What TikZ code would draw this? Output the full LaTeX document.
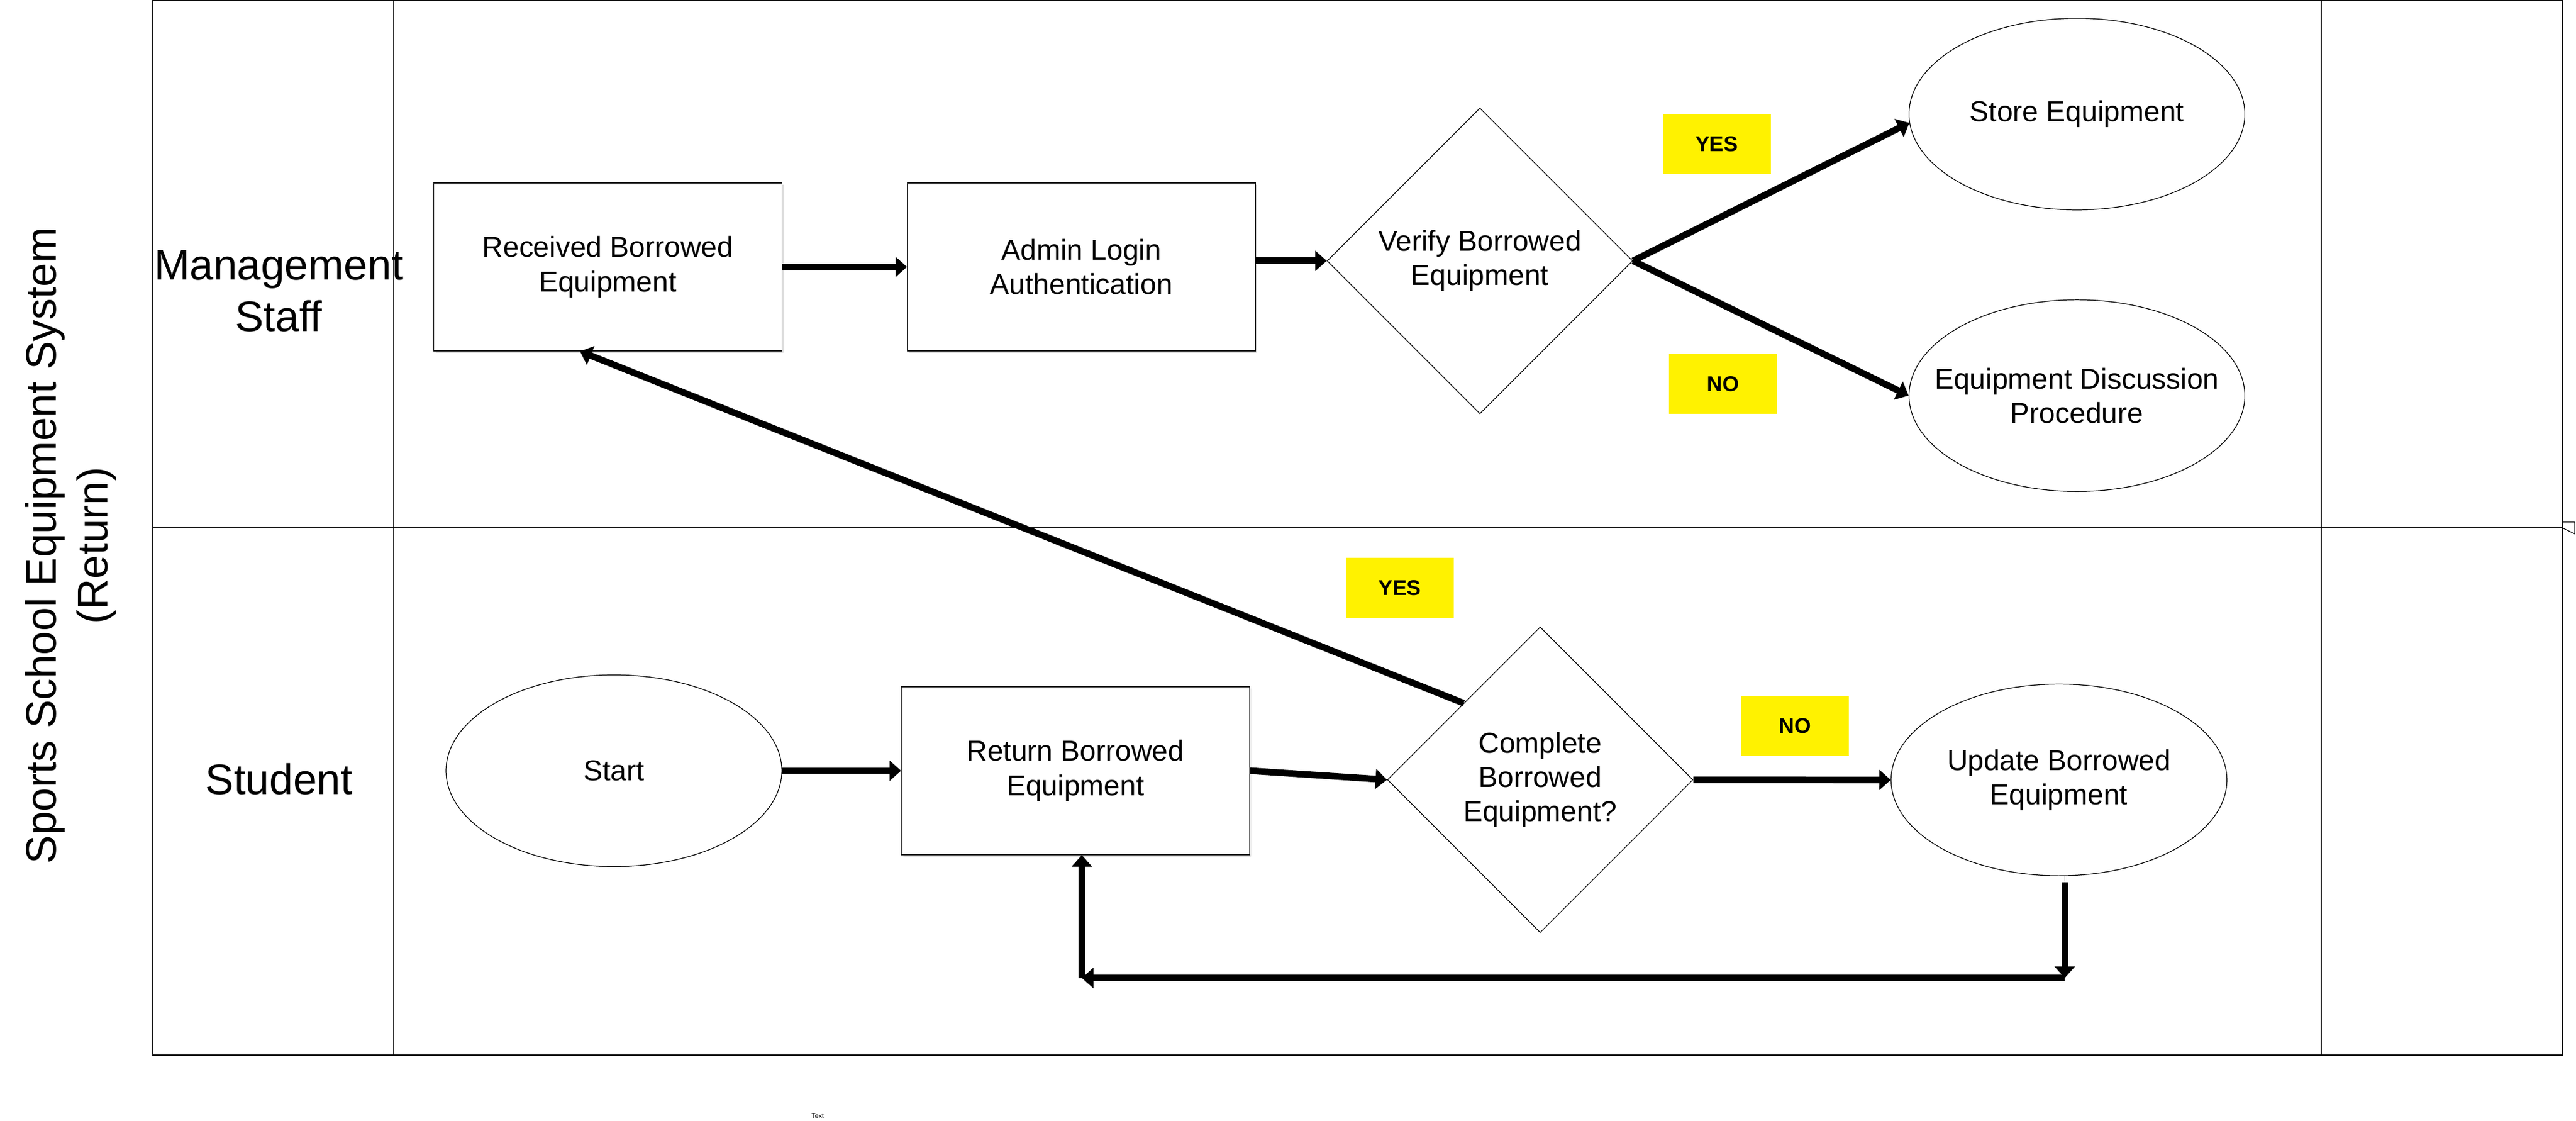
\documentclass[tikz,border=0pt]{standalone}
\usepackage{fontspec}
\setmainfont{Liberation Sans}
\usetikzlibrary{shapes.geometric,arrows.meta,shadows,calc}
\newcommand\myNodeFont{\fontsize{17.5}{20.9}\selectfont}
\newcommand\myTitleFont{\fontsize{26}{31.3}\selectfont}
\newcommand\myTagFont{\fontsize{13}{15}\selectfont\bfseries}
\begin{document}
\begin{tikzpicture}[x=1pt,y=-1pt,
  lane/.style={draw=black, line width=0.45pt},
  procbox/.style={rectangle, draw=black, line width=0.45pt, fill=white,
    minimum width=211.8pt, minimum height=102.2pt, inner sep=0pt,
    align=center, font=\myNodeFont,
    drop shadow={shadow xshift=1.2pt, shadow yshift=-1.2pt, opacity=0.3}},
  ovalbox/.style={ellipse, draw=black, line width=0.45pt, fill=white,
    minimum width=204.4pt, minimum height=116.6pt, inner sep=0pt},
  decbox/.style={diamond, draw=black, line width=0.45pt, fill=white,
    minimum width=186pt, minimum height=186pt, inner sep=0pt},
  txt/.style={align=center, font=\myNodeFont, inner sep=0pt},
  yn/.style={rectangle, fill=yellow, minimum width=65.7pt, minimum height=36.4pt,
    inner sep=0pt, font=\myTagFont},
  flow/.style={line width=4pt, -{Triangle[length=7pt,width=12pt]}}
]
\useasboundingbox (0,0) rectangle (1568,682);

% swimlane frame
\draw[lane] (92.8,0.3) rectangle (1559.6,641.9);
\draw[lane] (239.5,0.3) -- (239.5,641.9);
\draw[lane] (1412.9,0.3) -- (1412.9,641.9);
\draw[lane] (92.8,321.1) -- (1559.6,321.1);
\draw[lane] (1559.6,321.1) -- (1559.6,317.6) -- (1567.2,317.6) -- (1567.2,324.8) -- cycle;

% titles
\node[rotate=90, align=center, font=\myTitleFont, inner sep=0pt] (title) at (43,332)
  {Sports School Equipment System\\(Return)};
\node[align=center, font=\myTitleFont, inner sep=0pt] (lmgmt) at (169.7,177) {Management\\Staff};
\node[font=\myTitleFont, inner sep=0pt] (lstud) at (169.8,474.2) {Student};

% management lane
\node[procbox] (rec) at (370,162.4) {Received Borrowed\\Equipment};
\node[procbox] (adm) at (658.2,162.4) {Admin Login\\Authentication};
\node[decbox] (vbe) at (900.8,158.7) {};
\node[txt] (vbet) at (vbe.center) {Verify Borrowed\\Equipment};
\node[ovalbox] (sto) at (1264.2,69.4) {};
\node[txt] (stot) at (sto.center) {Store Equipment};
\node[ovalbox] (dis) at (1264.2,240.7) {};
\node[txt] (dist) at (dis.center) {Equipment Discussion\\Procedure};

% student lane
\node[ovalbox] (sta) at (373.7,468.9) {};
\node[txt] (stat) at (sta.center) {Start};
\node[procbox] (ret) at (654.6,468.9) {Return Borrowed\\Equipment};
\node[decbox] (cbe) at (937.5,474.4) {};
\node[txt] (cbet) at (cbe.center) {Complete\\Borrowed\\Equipment?};
\node[ovalbox] (upd) at (1253.3,474.5) {};
\node[txt] (updt) at (upd.center) {Update Borrowed\\Equipment};

% yes / no tags
\node[yn] (y1) at (1045,87.6) {YES};
\node[yn] (n1) at (1048.8,233.5) {NO};
\node[yn] (y2) at (852,357.7) {YES};
\node[yn] (n2) at (1092.6,441.6) {NO};

\node[font=\fontsize{4.1}{5}\selectfont, inner sep=0pt] (tiny) at (497.7,679) {Text};

% connectors
\draw[flow] (rec.east) -- (adm.west);
\draw[flow] (adm.east |- vbe.west) -- (vbe.west);
\draw[flow] (vbe.east) -- (sto.183.5);
\draw[flow] (vbe.east) -- (dis.west);
\draw[flow] (sta.east) -- (ret.west);
\draw[flow] (ret.east) -- (cbe.west);
\draw[flow] (cbe.east) -- (upd.west);
\draw[flow] (cbe.north west) -- ($(rec.south west)!0.42!(rec.south east)$);

\coordinate (c1) at (1256.8,595);
\coordinate (c2) at (658.5,595);
\draw[line width=0.45pt] (upd.south -| c1) -- ++(0,3.6);
\draw[flow] ($(upd.south -| c1)+(0,3.6)$) -- (c1);
\draw[flow] (c1) -- (c2);
\draw[flow] (c2) -- (c2 |- ret.south);
\end{tikzpicture}
\end{document}
